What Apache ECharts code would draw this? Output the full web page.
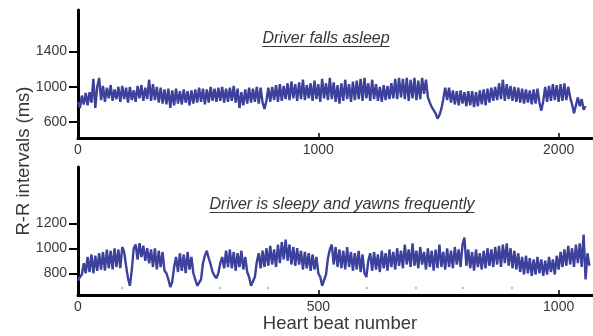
<!DOCTYPE html>
<html>
<head>
<meta charset="utf-8">
<script src="https://cdn.jsdelivr.net/npm/echarts@6/dist/echarts.min.js"></script>
<style>
html,body{margin:0;padding:0;background:#fff;}
#chart{width:593px;height:336px;}
</style>
</head>
<body>
<div id="chart"></div>
<script>
// ---------- DATA ----------
const TOP_TITLE = 'Driver falls asleep';
const BOTTOM_TITLE = 'Driver is sleepy and yawns frequently';
const Y_NAME = 'R-R intervals (ms)';
const X_NAME = 'Heart beat number';

// beat spacing between consecutive samples
const TOP_STEP = 8;
const BOTTOM_STEP = 4;

// top panel: R-R interval (ms), one sample every TOP_STEP beats, beats 0..2112
const TOP_RR = [
  830, 760, 900, 800, 930, 790, 940, 820, 1090, 760, 1000, 1100,
  850, 1010, 830, 990, 870, 1020, 840, 970, 860, 1000, 830, 1010,
  860, 990, 820, 1000, 850, 960, 830, 1010, 870, 1020, 840, 990,
  860, 1080, 840, 1030, 850, 1000, 820, 990, 810, 970, 800, 980,
  760, 960, 790, 980, 810, 950, 800, 970, 820, 950, 790, 960,
  810, 970, 820, 990, 830, 980, 800, 970, 820, 1000, 840, 980,
  830, 990, 840, 1000, 820, 980, 830, 990, 840, 1010, 820, 980,
  760, 940, 790, 970, 810, 990, 820, 980, 830, 1000, 810, 990,
  820, 750, 840, 990, 830, 1000, 850, 1020, 830, 1030, 840, 1010,
  860, 1040, 850, 1060, 870, 1030, 840, 1050, 860, 1080, 850, 1020,
  870, 1040, 840, 1070, 860, 1030, 830, 1090, 870, 1040, 850, 1100,
  860, 1050, 830, 1020, 810, 1040, 840, 1080, 860, 1030, 830, 1060,
  850, 1070, 860, 1090, 840, 1100, 870, 1040, 840, 1080, 860, 1030,
  840, 1000, 830, 1020, 850, 1010, 860, 1040, 870, 1090, 860, 1100,
  880, 1090, 860, 1100, 840, 1080, 870, 1100, 850, 1070, 860, 1100,
  920, 1080, 880, 820, 770, 750, 700, 640, 680, 750, 860, 990,
  850, 990, 820, 960, 800, 950, 790, 960, 810, 940, 780, 950,
  790, 950, 770, 940, 780, 960, 800, 970, 790, 980, 820, 990,
  840, 1000, 850, 1040, 860, 1080, 840, 1030, 860, 1010, 840, 1000,
  830, 990, 820, 980, 810, 970, 820, 960, 800, 970, 810, 980,
  820, 730, 840, 1000, 830, 1010, 840, 1030, 850, 1020, 830, 1030,
  840, 1040, 850, 1000, 880, 800, 700, 790, 880, 780, 860, 740,
  780
];

// bottom panel: R-R interval (ms), one sample every BOTTOM_STEP beats, beats 0..1064
const BOTTOM_RR = [
  740, 770, 790, 880, 800, 930, 810, 950, 800, 940, 820, 960,
  830, 970, 820, 990, 840, 980, 830, 1000, 850, 990, 840, 1010,
  970, 860, 760, 700, 830, 1000, 1030, 910, 1040, 930, 1020, 900,
  1000, 880, 990, 850, 1000, 830, 980, 850, 970, 820, 800, 750,
  690, 730, 850, 930, 810, 960, 820, 950, 800, 970, 830, 930,
  800, 750, 700, 690, 750, 880, 940, 980, 920, 870, 810, 780,
  760, 800, 880, 930, 840, 980, 850, 990, 840, 970, 820, 960,
  850, 980, 830, 930, 810, 770, 700, 690, 770, 890, 960, 840,
  980, 850, 1000, 860, 1020, 870, 990, 850, 1030, 880, 1050, 910,
  1070, 900, 1030, 870, 1010, 860, 1000, 870, 980, 830, 970, 840,
  960, 820, 950, 830, 930, 800, 770, 700, 690, 790, 920, 990,
  1030, 870, 1010, 850, 990, 840, 980, 830, 1010, 850, 970, 820,
  960, 830, 980, 810, 950, 800, 770, 900, 960, 820, 970, 830,
  950, 810, 980, 840, 960, 820, 990, 850, 970, 830, 1000, 860,
  980, 840, 1030, 870, 990, 850, 1040, 860, 980, 840, 1010, 870,
  970, 830, 1000, 850, 980, 820, 990, 840, 1030, 850, 970, 830,
  1000, 850, 980, 840, 1010, 870, 990, 850, 1030, 1085, 860, 990,
  840, 970, 820, 990, 850, 960, 830, 980, 840, 1000, 860, 990,
  850, 1010, 870, 1020, 850, 1030, 880, 1040, 860, 1000, 840, 980,
  830, 960, 810, 930, 790, 940, 800, 920, 780, 910, 790, 930,
  800, 910, 780, 900, 790, 930, 810, 910, 790, 940, 830, 970,
  850, 990, 860, 1020, 870, 1000, 850, 1030, 880, 1040, 850, 1110,
  750, 960, 860
];

// faint grey dots near the bottom of the lower panel
const DOT_BEATS = [92, 295, 395, 601, 703, 801, 903];
const DOT_VALUES = [682, 682, 682, 682, 682, 682, 682];

// tick labels
const TOP_X_TICKS = [0, 1000, 2000];
const TOP_Y_TICKS = [600, 1000, 1400];
const BOTTOM_X_TICKS = [0, 500, 1000];
const BOTTOM_Y_TICKS = [800, 1000, 1200];

// ---------- CHART ----------
const topData = TOP_RR.map((v, i) => [i * TOP_STEP, v]);
const bottomData = BOTTOM_RR.map((v, i) => [i * BOTTOM_STEP, v]);
const dotData = DOT_BEATS.map((b, i) => [b, DOT_VALUES[i]]);

const FONT = '"Liberation Sans", Arial, sans-serif';
const LINE_COLOR = '#3c419c';
const TEXT_COLOR = '#383838';
const plain = v => String(v);

function xAxisCfg(gridIndex, max, ticks) {
  return {
    type: 'value', gridIndex, min: 0, max,
    axisLine: { show: true, onZero: false, lineStyle: { color: '#000', width: 3 } },
    axisTick: { show: true, inside: true, length: 5, lineStyle: { color: '#000', width: 1.5 },
                customValues: ticks.slice(1) },
    axisLabel: { show: true, customValues: ticks, color: TEXT_COLOR, fontSize: 14,
                 fontFamily: FONT, margin: 5, formatter: plain },
    splitLine: { show: false }
  };
}
function yAxisCfg(gridIndex, min, max, ticks) {
  return {
    type: 'value', gridIndex, min, max,
    axisLine: { show: true, onZero: false, lineStyle: { color: '#000', width: 3 } },
    axisTick: { show: true, inside: false, length: 9, lineStyle: { color: '#000', width: 2 },
                customValues: ticks },
    axisLabel: { show: true, customValues: ticks, color: TEXT_COLOR, fontSize: 14,
                 fontFamily: FONT, margin: 11, formatter: plain },
    splitLine: { show: false }
  };
}

const chart = echarts.init(document.getElementById('chart'), null, { renderer: 'canvas' });

// measure text width for underlines
const mctx = document.createElement('canvas').getContext('2d');
function textWidth(t, font) { mctx.font = font; return mctx.measureText(t).width; }
const TITLE_FONT_SIZE = 16;
const titleFont = 'italic ' + TITLE_FONT_SIZE + 'px ' + FONT;
const w1 = textWidth(TOP_TITLE, titleFont);
const w2 = textWidth(BOTTOM_TITLE, titleFont);

function titleGraphic(text, cx, cy, w, uy) {
  return [
    { type: 'text', x: cx, y: cy, style: { text, fill: TEXT_COLOR, font: titleFont,
        align: 'center', verticalAlign: 'middle' } },
    { type: 'line', shape: { x1: cx - w / 2, y1: uy, x2: cx + w / 2, y2: uy },
      style: { stroke: TEXT_COLOR, lineWidth: 1 } }
  ];
}

chart.setOption({
  animation: false,
  backgroundColor: '#fff',
  grid: [
    { left: 78, top: 10, width: 515, height: 128 },
    { left: 78, top: 167, width: 515, height: 128 }
  ],
  xAxis: [
    xAxisCfg(0, 2143, TOP_X_TICKS),
    xAxisCfg(1, 1071.5, BOTTOM_X_TICKS)
  ],
  yAxis: [
    yAxisCfg(0, 420, 1870, TOP_Y_TICKS),
    yAxisCfg(1, 626, 1650, BOTTOM_Y_TICKS)
  ],
  series: [
    { type: 'line', xAxisIndex: 0, yAxisIndex: 0, data: topData, showSymbol: false,
      lineStyle: { color: LINE_COLOR, width: 2.4 }, sampling: null },
    { type: 'line', xAxisIndex: 1, yAxisIndex: 1, data: bottomData, showSymbol: false,
      lineStyle: { color: LINE_COLOR, width: 2.4 } },
    { type: 'scatter', xAxisIndex: 1, yAxisIndex: 1, data: dotData, symbolSize: 2.5,
      itemStyle: { color: '#b0b0b0' } }
  ],
  graphic: [
    ...titleGraphic(TOP_TITLE, 326, 39, w1, 46.5),
    ...titleGraphic(BOTTOM_TITLE, 342, 205, w2, 212.5),
    { type: 'text', x: 24, y: 161, rotation: Math.PI / 2,
      style: { text: Y_NAME, fill: TEXT_COLOR, font: '18.5px ' + FONT, align: 'center', verticalAlign: 'middle' } },
    { type: 'text', x: 340, y: 324,
      style: { text: X_NAME, fill: TEXT_COLOR, font: '18.5px ' + FONT, align: 'center', verticalAlign: 'middle' } }
  ]
});
</script>
</body>
</html>
